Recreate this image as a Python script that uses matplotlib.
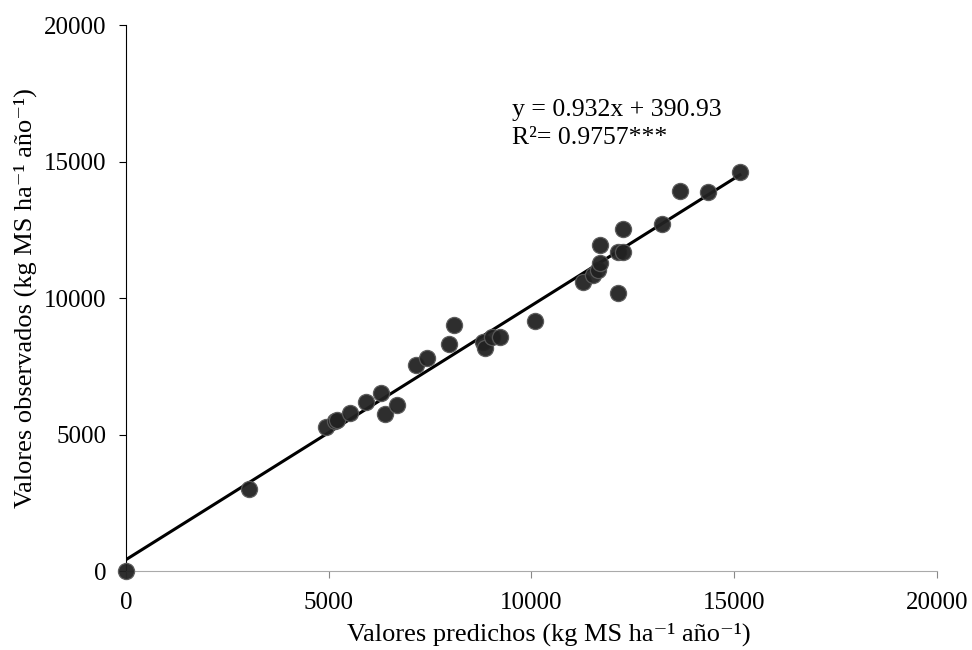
import numpy as np
import matplotlib
matplotlib.use('Agg')
import matplotlib.pyplot as plt

predichos = [0, 3030, 4930, 5150, 5200, 5520, 5920, 6290, 6390, 6680,
             7150, 7420, 7970, 8090, 8800, 8850, 9030, 9220, 10090,
             11270, 11520, 11640, 11690, 11690, 12130, 12130, 12260,
             12260, 13220, 13660, 14350, 15140]
observados = [0, 3000, 5280, 5500, 5550, 5790, 6190, 6520, 5750, 6080,
              7550, 7800, 8310, 9010, 8390, 8170, 8570, 8570, 9160,
              10590, 10840, 11030, 11280, 11940, 10180, 11690, 11690,
              12530, 12710, 13920, 13880, 14615]
ticks = [0, 5000, 10000, 15000, 20000]

plt.rcParams['font.family'] = ['Liberation Serif', 'DejaVu Serif']

fig = plt.figure(figsize=(9.72, 6.5), dpi=100)
ax = fig.add_axes([0.1296, 0.1215, 0.8344, 0.84])

x = np.array(predichos)
y = np.array(observados)
# linear trend fitted to the points
b1, b0 = np.polyfit(x, y, 1)
xl = np.array([x.min(), x.max()])
ax.plot(xl, b1 * xl + b0, color='black', lw=2.2, zorder=2)
ax.scatter(x, y, s=135, color='#222222', edgecolors='#5a5a5a', linewidths=0.9,
           alpha=0.95, zorder=3, clip_on=False)

ax.set_xlim(0, 20000)
ax.set_ylim(0, 20000)
ax.set_xticks(ticks)
ax.set_yticks(ticks)
ax.spines['top'].set_visible(False)
ax.spines['right'].set_visible(False)
ax.spines['left'].set_color('black')
ax.spines['bottom'].set_color('#aaaaaa')
ax.tick_params(axis='x', colors='#888888', labelcolor='black', length=5,
               direction='out', labelsize=18, pad=10)
ax.tick_params(axis='y', colors='black', length=5, direction='out',
               labelsize=18, pad=9)

ax.set_xlabel('Valores predichos (kg MS ha\u207b\u00b9 año\u207b\u00b9)', fontsize=19)
ax.set_ylabel('Valores observados (kg MS ha\u207b\u00b9 año\u207b\u00b9)', fontsize=19)
ax.xaxis.set_label_coords(0.521, -0.095)
ax.yaxis.set_label_coords(-0.11, 0.5)

ax.text(9520, 16870, 'y = 0.932x + 390.93', fontsize=18.5, va='center')
ax.text(9520, 15850, 'R\u00b2= 0.9757***', fontsize=18.5, va='center')

fig.savefig('out.png', dpi=100)
